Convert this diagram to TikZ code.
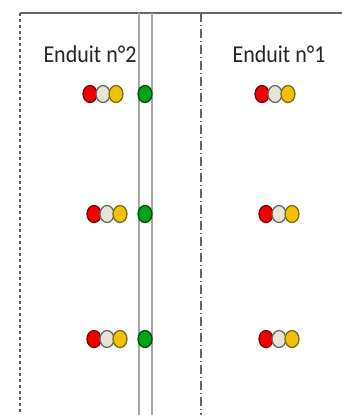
\documentclass[tikz,border=0pt]{standalone}
\usepackage{fontspec}
\setmainfont{Carlito}
\usetikzlibrary{shapes.geometric}
\begin{document}
\begin{tikzpicture}[x=1pt,y=-1pt,
  dot/.style={ellipse,minimum width=14pt,minimum height=17pt,inner sep=0pt,line width=1.3pt},
  reddot/.style={dot,fill=red!95!black,draw=red!50!black},
  beigedot/.style={dot,fill=black!8!yellow!10!white!90!black,draw=gray!80!black},
  yellowdot/.style={dot,fill=orange!40!yellow!95!black,draw=olive!75!black},
  greendot/.style={dot,fill=green!60!black!90!cyan,draw=green!30!black},
  lbl/.style={font=\fontsize{22}{22}\selectfont,text=black!85,yscale=1.1,inner sep=0pt}]
\useasboundingbox (0,0) rectangle (342,415);
\fill[white] (0,0) rectangle (342,415);
% lines
\coordinate (tl) at (20,13);
\coordinate (tr) at (342,13);
\coordinate (bl) at (20,415);
\draw[gray!80!black,line width=1.3pt] (tl) -- (tr);
\draw[black!65,line width=1.2pt,dash pattern=on 3pt off 3pt] (tl) -- (bl);
\coordinate (g1t) at (139,13); \coordinate (g1b) at (139,415);
\coordinate (g2t) at (152,13); \coordinate (g2b) at (152,415);
\draw[gray!70,line width=1.2pt] (g1t) -- (g1b);
\draw[gray!70,line width=1.2pt] (g2t) -- (g2b);
\coordinate (dt) at (201,13); \coordinate (db) at (201,415);
\draw[black!60,line width=1.2pt,dash pattern=on 9pt off 3pt on 1pt off 3pt] (dt) -- (db);
% labels
\node[lbl] (l2) at (90,54) {Enduit n°2};
\node[lbl] (l1) at (279,54) {Enduit n°1};
% rows
\foreach \y/\lx/\rx/\n in {94/90/262/a,214/94/266/b,339/94/266/c}{
  \node[reddot] (\n r1) at (\lx,\y) {};
  \node[beigedot] (\n b1) at (\lx+13,\y) {};
  \node[yellowdot] (\n y1) at (\lx+26,\y) {};
  \node[greendot] (\n g) at (145,\y) {};
  \node[reddot] (\n r2) at (\rx,\y) {};
  \node[beigedot] (\n b2) at (\rx+13,\y) {};
  \node[yellowdot] (\n y2) at (\rx+26,\y) {};
}
\end{tikzpicture}
\end{document}
